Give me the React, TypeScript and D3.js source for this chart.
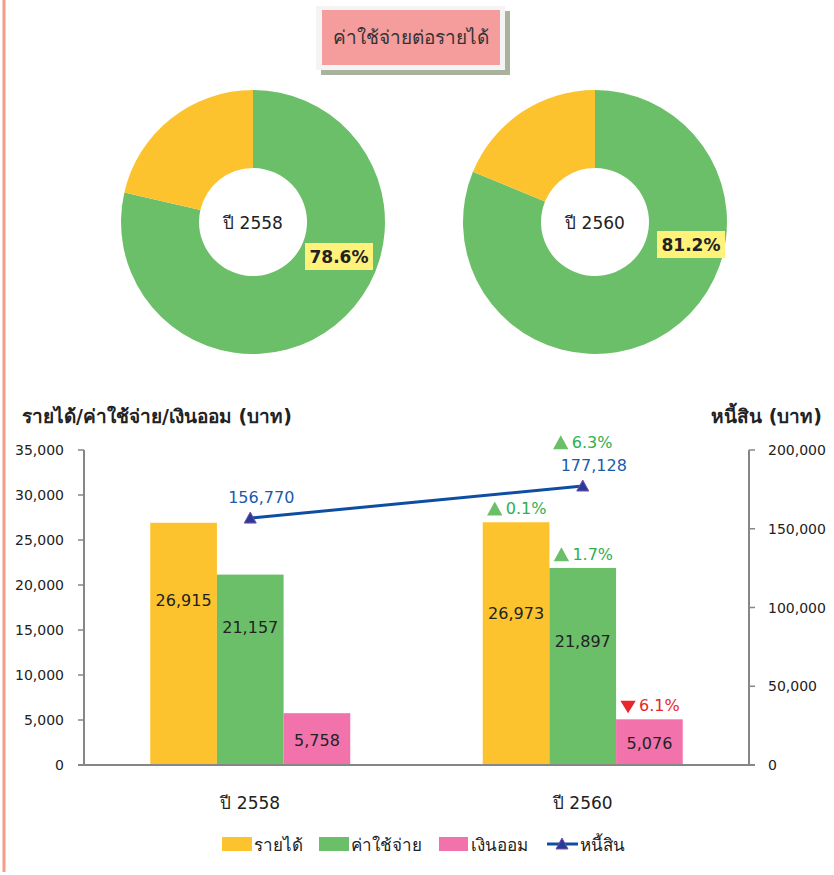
import React from "react";
import * as d3 from "d3";

const categories = ["ปี 2558", "ปี 2560"];
const seriesNames = ["รายได้", "ค่าใช้จ่าย", "เงินออม"];
const income = [26915, 26973];
const expense = [21157, 21897];
const savings = [5758, 5076];
const debt = [156770, 177128];
const expenseRatio = [78.6, 81.2];
const leftTicks = [0, 5000, 10000, 15000, 20000, 25000, 30000, 35000];
const rightTicks = [0, 50000, 100000, 150000, 200000];
// label anchor heights (data units) inside bars
const incomeLabelAt = [18300, 16900];
const expenseLabelAt = [15300, 13800];
const savingsLabelAt = [2800, 2500];
// change annotations for 2560 vs 2558
const incomeChange = [null, { dir: "up", text: "0.1%" }];
const expenseChange = [null, { dir: "up", text: "1.7%" }];
const savingsChange = [null, { dir: "down", text: "6.1%" }];
const debtChange = [null, { dir: "up", text: "6.3%" }];

const COLORS = ["#FDC32E", "#6CBF69", "#F273AC"];
const LINE = "#0D4EA3";
const UPC = "#2DB04F";
const UPTRI = "#6CBF69";
const DOWNC = "#E8262B";
const FONT = "Tahoma, 'DejaVu Sans', 'Noto Sans', sans-serif";

function Tri({ x, y, dir, size, fill }: any) {
  const s = size;
  const p = dir === "up"
    ? `M${x},${y - s * 0.55} L${x + s * 0.55},${y + s * 0.45} L${x - s * 0.55},${y + s * 0.45} Z`
    : `M${x - s * 0.55},${y - s * 0.4} L${x + s * 0.55},${y - s * 0.4} L${x},${y + s * 0.5} Z`;
  return <path d={p} fill={fill} />;
}

function Change({ x, y, c }: any) {
  if (!c) return null;
  const col = c.dir === "up" ? UPC : DOWNC;
  return (
    <g>
      <Tri x={x} y={y - 5} dir={c.dir} size={14} fill={c.dir === "up" ? UPTRI : DOWNC} />
      <text x={x + 11} y={y} fill={col} fontSize={16} fontFamily={FONT}>{c.text}</text>
    </g>
  );
}

function Donut({ cx, cy, value, label, boxX, boxY }: any) {
  const pie = d3.pie<number>().sort(null).value((d) => d);
  const arcs = pie([value, 100 - value]);
  const arc = d3.arc<any>().innerRadius(54).outerRadius(132);
  return (
    <g transform={`translate(${cx},${cy})`}>
      {arcs.map((a, i) => (
        <path key={i} d={arc(a) as string} fill={i === 0 ? COLORS[1] : COLORS[0]} />
      ))}
      <text x={0} y={7} textAnchor="middle" fontSize={17} fill="#222" fontFamily={FONT}>{label}</text>
      <rect x={boxX} y={boxY} width={68} height={27} fill="#FFF27A" />
      <text x={boxX + 34} y={boxY + 20} textAnchor="middle" fontSize={17} fontWeight="bold" fill="#222" fontFamily={FONT}>
        {value.toFixed(1)}%
      </text>
    </g>
  );
}

export default function App() {
  const W = 834, H = 875;
  const x0 = d3.scaleBand().domain(categories).range([84, 749]);
  const x1 = d3.scaleBand().domain(seriesNames).range([0, 200]);
  const yL = d3.scaleLinear().domain([0, 35000]).range([765, 450]);
  const yR = d3.scaleLinear().domain([0, 200000]).range([765, 450]);
  const fmt = d3.format(",");
  const series = [income, expense, savings];
  const labelAt = [incomeLabelAt, expenseLabelAt, savingsLabelAt];
  const changes = [incomeChange, expenseChange, savingsChange];
  const groupLeft = (c: string) => (x0(c) as number) + (x0.bandwidth() - 200) / 2;
  const center = (c: string) => (x0(c) as number) + x0.bandwidth() / 2;
  const linePath = d3.line<number>().x((_, i) => center(categories[i])).y((d) => yR(d))(debt) as string;

  return (
    <svg width={W} height={H} style={{ position: "absolute", left: 0, top: 0 }} fontFamily={FONT}>
      <rect width={W} height={H} fill="#fff" />
      <line x1={4} x2={4} y1={0} y2={872} stroke="#F49C86" strokeWidth={3} />

      {/* title */}
      <rect x={321} y={11} width={189} height={64} fill="#A9B29D" />
      <rect x={316} y={6} width={189} height={64} fill="#F4F4F4" />
      <rect x={322} y={10} width={178} height={55} fill="#F59C9C" />
      <text x={411} y={44} textAnchor="middle" fontSize={19} fill="#333">ค่าใช้จ่ายต่อรายได้</text>

      <Donut cx={253} cy={222} value={expenseRatio[0]} label={categories[0]} boxX={52} boxY={21} />
      <Donut cx={595} cy={222} value={expenseRatio[1]} label={categories[1]} boxX={62} boxY={9} />

      {/* axis titles */}
      <text x={22} y={423} fontSize={19} fill="#222" fontWeight="bold">รายได้/ค่าใช้จ่าย/เงินออม (บาท)</text>
      <text x={822} y={423} textAnchor="end" fontSize={19} fill="#222" fontWeight="bold">หนี้สิน (บาท)</text>

      {/* bars */}
      {categories.map((c, ci) => (
        <g key={c}>
          {series.map((s, si) => {
            const bx = groupLeft(c) + (x1(seriesNames[si]) as number);
            const bw = x1.bandwidth();
            return (
              <g key={si}>
                <rect x={bx} y={yL(s[ci])} width={bw} height={765 - yL(s[ci])} fill={COLORS[si]} />
                <text x={bx + bw / 2} y={yL(labelAt[si][ci]) + 6} textAnchor="middle" fontSize={16} fill="#222">
                  {fmt(s[ci])}
                </text>
                <Change x={bx + 12} y={yL(s[ci]) - 8} c={changes[si][ci]} />
              </g>
            );
          })}
        </g>
      ))}

      {/* axes */}
      <line x1={84} x2={84} y1={450} y2={765} stroke="#868686" strokeWidth={2} />
      <line x1={749} x2={749} y1={450} y2={765} stroke="#868686" strokeWidth={2} />
      <line x1={78} x2={755} y1={765} y2={765} stroke="#868686" strokeWidth={2} />
      {leftTicks.map((t) => (
        <g key={t}>
          <line x1={78} x2={84} y1={yL(t)} y2={yL(t)} stroke="#868686" strokeWidth={1.5} />
          <text x={64} y={yL(t) + 5} textAnchor="end" fontSize={14} fill="#222">{fmt(t)}</text>
        </g>
      ))}
      {rightTicks.map((t) => (
        <g key={t}>
          <line x1={749} x2={755} y1={yR(t)} y2={yR(t)} stroke="#868686" strokeWidth={1.5} />
          <text x={768} y={yR(t) + 5} textAnchor="start" fontSize={14} fill="#222">{fmt(t)}</text>
        </g>
      ))}

      {/* debt line */}
      <path d={linePath} fill="none" stroke={LINE} strokeWidth={3} />
      {debt.map((d, i) => {
        const cx = center(categories[i]);
        const cy = yR(d);
        return (
          <g key={i}>
            <path d={`M${cx},${cy - 6} L${cx + 6},${cy + 5} L${cx - 6},${cy + 5} Z`} fill="#263C96" stroke="#7A4FA8" strokeWidth={1} />
            <text x={cx + 11} y={cy - 15} textAnchor="middle" fontSize={16} fill="#1A5BAE">{fmt(d)}</text>
            <Change x={cx - 22} y={cy - 38} c={debtChange[i]} />
          </g>
        );
      })}

      {/* category labels */}
      {categories.map((c) => (
        <text key={c} x={center(c)} y={809} textAnchor="middle" fontSize={17} fill="#222">{c}</text>
      ))}

      {/* legend */}
      <g fontSize={17} fill="#222">
        <rect x={222} y={837} width={30} height={14} fill={COLORS[0]} />
        <text x={254} y={851}>{seriesNames[0]}</text>
        <rect x={319} y={837} width={30} height={14} fill={COLORS[1]} />
        <text x={351} y={851}>{seriesNames[1]}</text>
        <rect x={439} y={837} width={29} height={14} fill={COLORS[2]} />
        <text x={471} y={851}>{seriesNames[2]}</text>
        <line x1={547} x2={578} y1={844} y2={844} stroke={LINE} strokeWidth={3} />
        <path d="M562,838 L568,849 L556,849 Z" fill="#263C96" stroke="#7A4FA8" strokeWidth={1} />
        <text x={580} y={851}>หนี้สิน</text>
      </g>
    </svg>
  );
}
